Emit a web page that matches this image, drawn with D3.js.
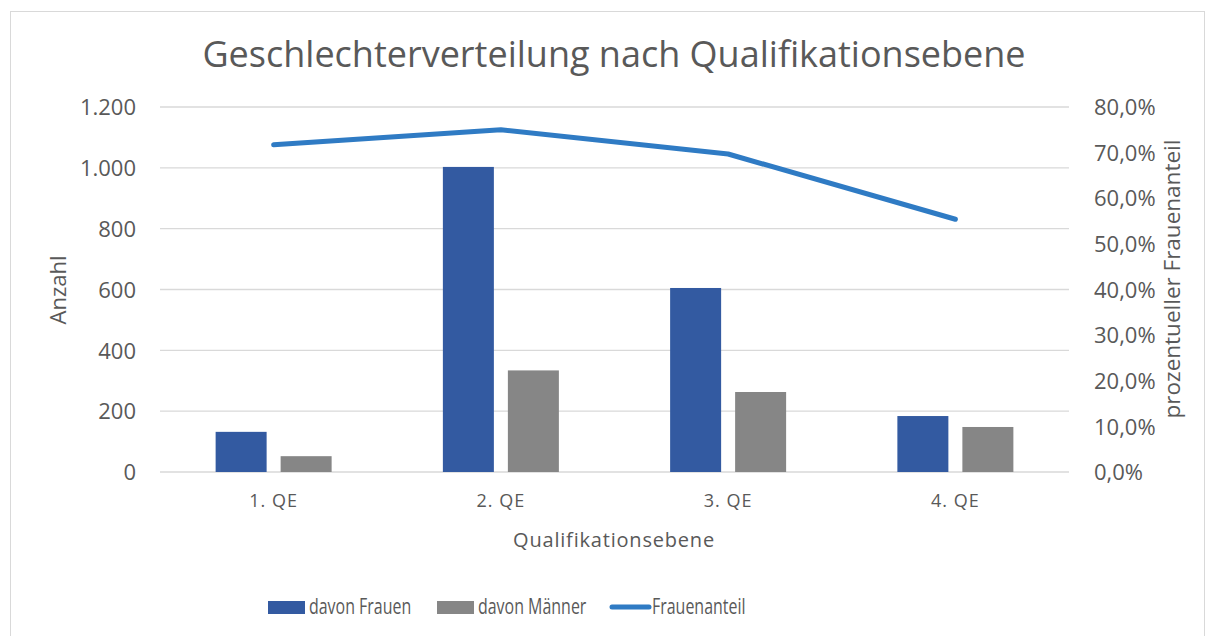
<!DOCTYPE html>
<html>
<head>
<meta charset="utf-8">
<script src="https://cdn.jsdelivr.net/npm/d3@7"></script>
<style>
  body { margin: 0; background: #fff; }
  text { font-family: "Open Sans", "Noto Sans", sans-serif; fill: #595959; }
</style>
</head>
<body>
<svg id="chart"></svg>
<script>
// data
var categories = ["1. QE", "2. QE", "3. QE", "4. QE"];
var frauen = [132, 1003, 605, 184];
var maenner = [52, 334, 263, 148];
var anteil = [0.717, 0.750, 0.697, 0.554];
var leftTicks = [0, 200, 400, 600, 800, 1000, 1200];
var rightTicks = [0, 0.1, 0.2, 0.3, 0.4, 0.5, 0.6, 0.7, 0.8];

var W = 1215, H = 636;
var margin = { top: 107, right: 146, bottom: 164, left: 160 },
    width = W - margin.left - margin.right,
    height = H - margin.top - margin.bottom;

var svg = d3.select("#chart").attr("width", W).attr("height", H);

// outer frame
svg.append("rect")
    .attr("x", 10.5).attr("y", 11.5)
    .attr("width", 1194).attr("height", 640)
    .attr("fill", "#fff").attr("stroke", "#d9d9d9");

svg.append("text")
    .attr("x", 614).attr("y", 67)
    .attr("text-anchor", "middle")
    .style("font-size", "36px")
    .text("Geschlechterverteilung nach Qualifikationsebene");

var g = svg.append("g")
    .attr("transform", "translate(" + margin.left + "," + margin.top + ")");

var x = d3.scaleBand().domain(categories).range([0, width]);
var yL = d3.scaleLinear().domain([0, 1200]).range([height, 0]);
var yR = d3.scaleLinear().domain([0, 0.8]).range([height, 0]);

var de = d3.formatLocale({ decimal: ",", thousands: ".", grouping: [3], currency: ["", "€"] });

// gridlines
g.selectAll(".grid").data(leftTicks).enter().append("line")
    .attr("x1", 0).attr("x2", width)
    .attr("y1", function (d) { return yL(d); })
    .attr("y2", function (d) { return yL(d); })
    .attr("stroke", "#d9d9d9").attr("stroke-width", 1.3);

// left axis
var axL = g.append("g")
    .attr("transform", "translate(-21,0)")
    .call(d3.axisLeft(yL).tickValues(leftTicks).tickSize(0).tickFormat(de.format(",")));
axL.select(".domain").remove();
axL.selectAll("text").style("font-size", "22px").attr("dy", "0.35em");

// right axis
var axR = g.append("g")
    .attr("transform", "translate(" + (width + 22) + ",0)")
    .call(d3.axisRight(yR).tickValues(rightTicks).tickSize(0).tickFormat(de.format(".1%")));
axR.select(".domain").remove();
axR.selectAll("text").style("font-size", "22px").attr("dy", "0.35em");

// x axis
var axX = g.append("g")
    .attr("transform", "translate(0," + height + ")")
    .call(d3.axisBottom(x).tickSize(0).tickPadding(22));
axX.select(".domain").remove();
axX.selectAll("text").style("font-size", "18px").style("letter-spacing", "1px");

// bars
var bw = 51, gap = 14;
g.selectAll(".bf").data(frauen).enter().append("rect")
    .attr("x", function (d, i) { return x(categories[i]) + x.bandwidth() / 2 - gap / 2 - bw; })
    .attr("y", function (d) { return yL(d); })
    .attr("width", bw)
    .attr("height", function (d) { return height - yL(d); })
    .attr("fill", "#335AA1");

g.selectAll(".bm").data(maenner).enter().append("rect")
    .attr("x", function (d, i) { return x(categories[i]) + x.bandwidth() / 2 + gap / 2; })
    .attr("y", function (d) { return yL(d); })
    .attr("width", bw)
    .attr("height", function (d) { return height - yL(d); })
    .attr("fill", "#868686");

// line
var line = d3.line()
    .x(function (d, i) { return x(categories[i]) + x.bandwidth() / 2; })
    .y(function (d) { return yR(d); });

g.append("path")
    .datum(anteil)
    .attr("d", line)
    .attr("fill", "none")
    .attr("stroke", "#2F7BC4")
    .attr("stroke-width", 5)
    .attr("stroke-linecap", "round")
    .attr("stroke-linejoin", "round");

// axis titles
svg.append("text")
    .attr("transform", "translate(66,290) rotate(-90)")
    .attr("text-anchor", "middle")
    .style("font-size", "22px")
    .text("Anzahl");

svg.append("text")
    .attr("transform", "translate(1180,279) rotate(-90)")
    .attr("text-anchor", "middle")
    .style("font-size", "22.5px")
    .text("prozentueller Frauenanteil");

svg.append("text")
    .attr("x", 614).attr("y", 547)
    .attr("text-anchor", "middle")
    .style("font-size", "20px")
    .style("letter-spacing", "0.8px")
    .text("Qualifikationsebene");

// legend
var legend = [
    { name: "davon Frauen", color: "#335AA1", type: "rect", x: 268 },
    { name: "davon Männer", color: "#868686", type: "rect", x: 437 },
    { name: "Frauenanteil", color: "#2F7BC4", type: "line", x: 611 }
];
var lg = svg.selectAll(".legend").data(legend).enter().append("g")
    .attr("transform", function (d) { return "translate(" + d.x + ",607)"; });
lg.filter(function (d) { return d.type === "rect"; }).append("rect")
    .attr("x", 0).attr("y", -6).attr("width", 37).attr("height", 13)
    .attr("fill", function (d) { return d.color; });
lg.filter(function (d) { return d.type === "line"; }).append("line")
    .attr("x1", 1).attr("x2", 38).attr("y1", 0).attr("y2", 0)
    .attr("stroke", function (d) { return d.color; })
    .attr("stroke-width", 5).attr("stroke-linecap", "round");
lg.append("text")
    .attr("transform", "translate(41,0) scale(0.76,1)")
    .attr("dy", "0.35em")
    .style("font-size", "21px")
    .text(function (d) { return d.name; });
</script>
</body>
</html>
